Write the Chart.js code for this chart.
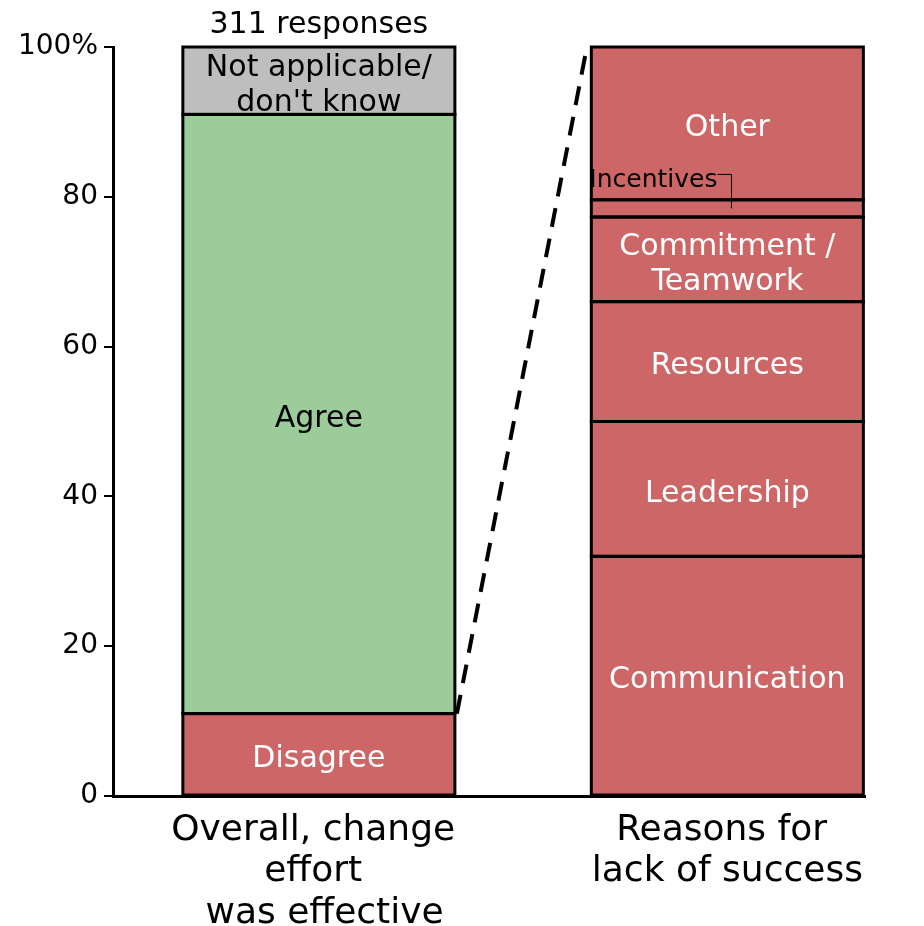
<!DOCTYPE html>
<html>
<head>
<meta charset="utf-8">
<script src="https://cdn.jsdelivr.net/npm/chart.js@4"></script>
<style>
  body { margin: 0; background: #fff; }
  #wrap { width: 924px; height: 926px; }
</style>
</head>
<body>
<div id="wrap"><canvas id="chart" width="924" height="926"></canvas></div>
<script>
// data
const tickLabels = [['Overall, change ', 'effort ', ' was effective'], ['Reasons for ', 'lack of success']];
const leftSegments = ['Disagree', 'Agree', "Not applicable/\ndon't know"];
const leftValues = [11, 80, 9];
const rightSegments = ['Communication', 'Leadership', 'Resources', 'Commitment /\nTeamwork', 'Incentives', 'Other'];
const rightValues = [32, 18, 16, 11.3, 2.3, 20.4];
const responsesLabel = '311 responses';
const yTicks = [0, 20, 40, 60, 80, 100];

const RED = '#CD6666';
const GREEN = '#9CCC9A';
const GREY = '#BEBEBE';
const FONT = "'DejaVu Sans', Verdana, sans-serif";

const leftColors = [RED, GREEN, GREY];
const leftText = ['#fff', '#000', '#000'];

const datasets = [];
leftSegments.forEach((name, i) => {
  datasets.push({
    label: name,
    data: [{ x: 0, y: leftValues[i] }],
    backgroundColor: leftColors[i],
    textColor: leftText[i]
  });
});
rightSegments.forEach((name, i) => {
  datasets.push({
    label: name,
    data: [{ x: 1, y: rightValues[i] }],
    backgroundColor: RED,
    textColor: name === 'Incentives' ? '#000' : '#fff',
    outside: name === 'Incentives'
  });
});
datasets.forEach(d => {
  d.borderWidth = 0;
  d.barPercentage = 0.666;
  d.categoryPercentage = 1;
});

// outlines, segment labels, connector and title drawn on top
const overlay = {
  id: 'overlay',
  afterDatasetsDraw(chart) {
    const ctx = chart.ctx;
    ctx.save();
    ctx.strokeStyle = '#000';
    ctx.lineWidth = 3;
    chart.data.datasets.forEach((ds, i) => {
      const el = chart.getDatasetMeta(i).data[0];
      ctx.strokeRect(el.x - el.width / 2, el.y, el.width, el.base - el.y);
    });
    ctx.restore();
  },
  afterDraw(chart) {
    const ctx = chart.ctx;
    ctx.save();
    ctx.textAlign = 'center';
    ctx.textBaseline = 'middle';
    chart.data.datasets.forEach((ds, i) => {
      const el = chart.getDatasetMeta(i).data[0];
      const cy = (el.y + el.base) / 2;
      if (ds.outside) {
        ctx.font = '25px ' + FONT;
        ctx.fillStyle = ds.textColor;
        ctx.textAlign = 'left';
        const lx = el.x - el.width / 2 - 2;
        const ly = cy - 31;
        ctx.fillText(ds.label, lx + 0, ly + 3);
        const w = ctx.measureText(ds.label).width;
        ctx.strokeStyle = '#000';
        ctx.lineWidth = 1;
        ctx.beginPath();
        ctx.moveTo(lx + w, ly - 3);
        ctx.lineTo(lx + w + 14, ly - 3);
        ctx.lineTo(lx + w + 14, cy);
        ctx.stroke();
        ctx.textAlign = 'center';
        return;
      }
      ctx.font = '30px ' + FONT;
      ctx.fillStyle = ds.textColor;
      const lines = ds.label.split('\n');
      const lh = 35;
      lines.forEach((t, k) => {
        ctx.fillText(t, el.x, cy + 5 + (k - (lines.length - 1) / 2) * lh);
      });
    });

    // title over the left bar
    const top = chart.getDatasetMeta(leftSegments.length - 1).data[0];
    ctx.font = '30px ' + FONT;
    ctx.fillStyle = '#000';
    ctx.fillText(responsesLabel, top.x, top.y - 22);

    // dashed connector
    const a = chart.getDatasetMeta(0).data[0];
    const b = chart.getDatasetMeta(chart.data.datasets.length - 1).data[0];
    ctx.strokeStyle = '#000';
    ctx.lineWidth = 4;
    ctx.setLineDash([19, 12]);
    ctx.beginPath();
    ctx.moveTo(a.x + a.width / 2 + 2, a.y);
    ctx.lineTo(b.x - b.width / 2 - 5, b.y + 3);
    ctx.stroke();
    ctx.restore();
  }
};

new Chart(document.getElementById('chart'), {
  type: 'bar',
  data: { datasets },
  options: {
    responsive: false,
    animation: false,
    layout: { padding: { top: 47, right: 59, left: 0, bottom: 0 } },
    plugins: { legend: { display: false }, tooltip: { enabled: false } },
    scales: {
      x: {
        type: 'linear',
        stacked: true,
        offset: false,
        min: -0.504,
        max: 1.337,
        grid: { display: false },
        border: { color: '#000', width: 3 },
        afterBuildTicks: s => { s.ticks = [{ value: 0 }, { value: 1 }]; },
        afterFit: s => { s.height = 130; },
        ticks: {
          autoSkip: false,
          maxRotation: 0,
          padding: 6,
          color: '#000',
          font: { family: FONT, size: 36, lineHeight: 1.15 },
          callback: (v, i) => tickLabels[i]
        }
      },
      y: {
        stacked: true,
        min: 0,
        max: 100,
        afterBuildTicks: s => { s.ticks = yTicks.map(v => ({ value: v })); },
        afterFit: s => { s.width = 113; },
        grid: { drawOnChartArea: false, color: '#000', lineWidth: 2, tickLength: 9 },
        border: { color: '#000', width: 3 },
        ticks: {
          padding: 6,
          color: '#000',
          font: { family: FONT, size: 28 },
          callback: v => v === 100 ? '100%' : v
        }
      }
    }
  },
  plugins: [overlay]
});
</script>
</body>
</html>
